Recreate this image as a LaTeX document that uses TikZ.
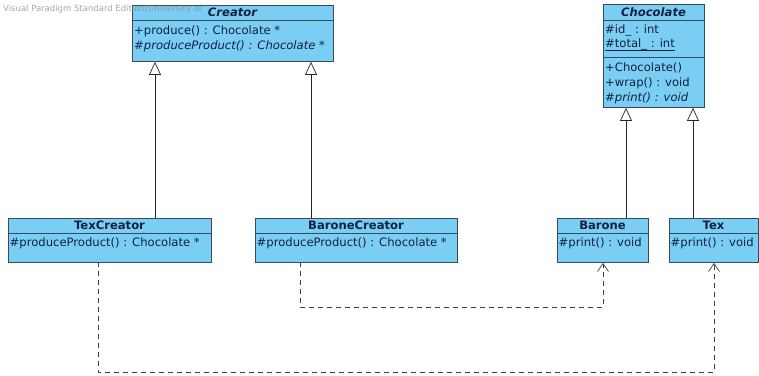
\documentclass[tikz,border=0pt]{standalone}
\usepackage{fontspec}
\setmainfont{DejaVu Sans}
\usetikzlibrary{arrows.meta}
\definecolor{boxfill}{HTML}{7ACDF3}
\definecolor{boxline}{HTML}{3A4A5A}
\definecolor{txt}{HTML}{13213F}
\definecolor{wm}{HTML}{8A8A8A}
\newcommand{\memfont}{\fontsize{11.6}{13}\selectfont}
\tikzset{
  x=1pt, y=-1pt,
  umlbox/.style={draw=boxline, fill=boxfill, line width=0.9pt, inner sep=0pt, anchor=north west},
  sepline/.style={draw=boxline, line width=0.9pt},
  ttl/.style={font=\memfont\bfseries, text=txt, inner sep=0pt},
  mem/.style={font=\memfont, text=txt, inner sep=0pt, anchor=west},
  gen/.style={draw=black!85, line width=0.7pt, -{Triangle[open, width=12pt, length=13pt, fill=white]}},
  dep/.style={draw=black!75, line width=0.7pt, dash pattern=on 5pt off 4pt, -{Straight Barb[length=8pt, width=11pt]}},
}
\begin{document}
\begin{tikzpicture}
\useasboundingbox (0,0) rectangle (759,375);
\fill[white] (0,0) rectangle (759,375);

% Creator
\node[umlbox, minimum width=201pt, minimum height=56pt] (creator) at (132,5) {};
\draw[sepline] (132,20) -- (333,20);
\node[ttl, font=\memfont\bfseries\itshape] (creatorT) at (232.5,12.5) {Creator};
\node[mem] (creator1) at (134,31) {+produce() : Chocolate *};
\node[mem, font=\memfont\itshape] (creator2) at (134,46) {\#produceProduct() : Chocolate *};

% Chocolate
\node[umlbox, minimum width=101pt, minimum height=103pt] (choc) at (603,4) {};
\draw[sepline] (603,20) -- (704,20);
\draw[sepline] (603,57) -- (704,57);
\node[ttl, font=\memfont\bfseries\itshape] (chocT) at (653.5,12) {Chocolate};
\node[mem] (choc1) at (605,30) {\#id\_ : int};
\node[mem] (choc2) at (605,44.5) {\#total\_ : int};
\draw[draw=txt, line width=0.6pt] ([yshift=-3pt]choc2.base west) -- ([yshift=-3pt]choc2.base east);
\node[mem] (choc3) at (605,68) {+Chocolate()};
\node[mem] (choc4) at (605,83) {+wrap() : void};
\node[mem, font=\memfont\itshape] (choc5) at (605,98) {\#print() : void};

% TexCreator
\node[umlbox, minimum width=203pt, minimum height=44pt] (texc) at (8,218) {};
\draw[sepline] (8,233) -- (211,233);
\node[ttl] (texcT) at (109.5,225.5) {TexCreator};
\node[mem] (texc1) at (9.5,243) {\#produceProduct() : Chocolate *};

% BaroneCreator
\node[umlbox, minimum width=202pt, minimum height=44pt] (barc) at (255,218) {};
\draw[sepline] (255,233) -- (457,233);
\node[ttl] (barcT) at (356,225.5) {BaroneCreator};
\node[mem] (barc1) at (256.5,243) {\#produceProduct() : Chocolate *};

% Barone
\node[umlbox, minimum width=91pt, minimum height=44pt] (barone) at (557,218) {};
\draw[sepline] (557,233) -- (648,233);
\node[ttl] (baroneT) at (602.5,225.5) {Barone};
\node[mem] (barone1) at (558.5,243) {\#print() : void};

% Tex
\node[umlbox, minimum width=89pt, minimum height=44pt] (tex) at (669,218) {};
\draw[sepline] (669,233) -- (758,233);
\node[ttl] (texT) at (713.5,225.5) {Tex};
\node[mem] (tex1) at (670.5,243) {\#print() : void};

% generalizations
\draw[gen] (texc.north west) ++(147,0) coordinate (g1) -- (g1 |- creator.south);
\draw[gen] (barc.north west) ++(56,0) coordinate (g2) -- (g2 |- creator.south);
\draw[gen] (barone.north west) ++(69,0) coordinate (g3) -- (g3 |- choc.south);
\draw[gen] (tex.north west) ++(24,0) coordinate (g4) -- (g4 |- choc.south);

% dependencies
\coordinate (d1s) at (300,262);
\coordinate (d1a) at (300,307);
\coordinate (d1b) at (603,307);
\draw[dep] (d1s) -- (d1a) -- (d1b) -- (d1b |- barone.south);
\coordinate (d2s) at (98,262);
\coordinate (d2a) at (98,372);
\coordinate (d2b) at (714,372);
\draw[dep] (d2s) -- (d2a) -- (d2b) -- (d2b |- tex.south);

% watermark
\node[font=\fontsize{8.5}{10}\selectfont, text=wm, text opacity=0.75, inner sep=0pt, anchor=west] (wmark) at (3,9) {Visual Paradigm Standard Edition(University of};
\end{tikzpicture}
\end{document}
